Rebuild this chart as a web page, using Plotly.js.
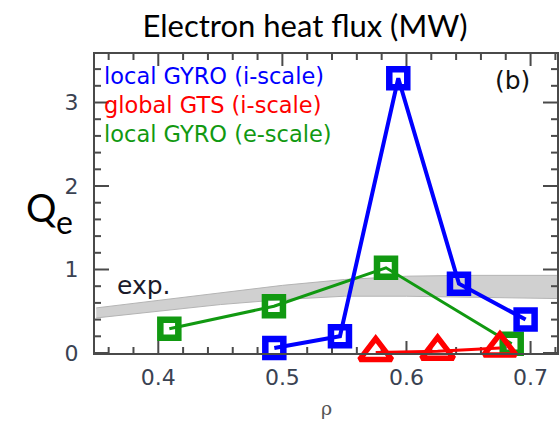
<!DOCTYPE html>
<html>
<head>
<meta charset="utf-8">
<script src="https://cdn.plot.ly/plotly-3.0.1.min.js"></script>
<style>html,body{margin:0;padding:0;background:#fff;}#chart{width:559px;height:423px;}</style>
</head>
<body>
<div id="chart"></div>
<script>
// ---- data ----
const rhoGyroI = [0.4935, 0.5464, 0.5934, 0.6423, 0.6960];
const qGyroI   = [0.06, 0.20, 3.29, 0.83, 0.40];
const rhoGts   = [0.5752, 0.6251, 0.6753];
const qGts     = [0.005, 0.02, 0.06];
const rhoGyroE = [0.4089, 0.4932, 0.5835, 0.6848];
const qGyroE   = [0.29, 0.56, 1.02, 0.11];
const rhoExp   = [0.35, 0.40, 0.45, 0.50, 0.55, 0.60, 0.65, 0.70, 0.73];
const qExpLo   = [0.42, 0.50, 0.58, 0.64, 0.68, 0.68, 0.67, 0.66, 0.65];
const qExpHi   = [0.54, 0.63, 0.72, 0.81, 0.88, 0.92, 0.93, 0.93, 0.93];
const xTickVals = [0.4, 0.5, 0.6, 0.7];
const xTickText = ['0.4', '0.5', '0.6', '0.7'];
const yTickVals = [0, 1, 2, 3];
const yTickText = ['0', '1', '2', '3'];
const seriesNames = ['local GYRO (i-scale)', 'global GTS (i-scale)', 'local GYRO (e-scale)'];
const seriesColors = ['#0000ff', '#ff0000', '#119911'];

// ---- layout geometry ----
const W = 559, H = 423;
const M = {l: 95, r: 2, t: 54, b: 70};
const pw = W - M.l - M.r, ph = H - M.t - M.b;
const px = x => (x - M.l) / pw;
const py = y => (H - M.b - y) / ph;
const xRange = [0.349, 0.7213];
const yRange = [0, 3.581];
const axisColor = '#4a4a4a';

// ---- tick marks (inside, mirrored) as one line trace built from the tick arrays ----
function tickSet(vals, sub, lo, hi) {
  const step = (vals[1] - vals[0]) / sub, out = [];
  const start = Math.ceil((lo - vals[0]) / step - 1e-9);
  for (let k = start; vals[0] + k * step <= hi + 1e-9; k++) {
    const v = Math.round((vals[0] + k * step) * 1e6) / 1e6;
    out.push({v, major: ((k % sub) + sub) % sub === 0});
  }
  return out;
}
const tx = [], ty = [];
const yPerPx = (yRange[1] - yRange[0]) / ph, xPerPx = (xRange[1] - xRange[0]) / pw;
tickSet(xTickVals, 5, xRange[0], xRange[1]).forEach(t => {
  const len = (t.major ? 12 : 6) * yPerPx;
  tx.push(t.v, t.v, null, t.v, t.v, null);
  ty.push(yRange[0], yRange[0] + len, null, yRange[1], yRange[1] - len, null);
});
tickSet(yTickVals, 5, yRange[0], yRange[1]).forEach(t => {
  const len = (t.major ? 14 : 6) * xPerPx;
  tx.push(xRange[0], xRange[0] + len, null, xRange[1], xRange[1] - len, null);
  ty.push(t.v, t.v, null, t.v, t.v, null);
});

const traces = [
  {x: rhoExp, y: qExpLo, mode: 'lines', line: {color: '#b4b4b4', width: 1}, hoverinfo: 'skip', showlegend: false},
  {x: rhoExp, y: qExpHi, mode: 'lines', fill: 'tonexty', fillcolor: '#d0d0d0', line: {color: '#b4b4b4', width: 1}, hoverinfo: 'skip', showlegend: false},
  {x: tx, y: ty, mode: 'lines', connectgaps: false, line: {color: axisColor, width: 2}, hoverinfo: 'skip', showlegend: false},
  {x: rhoGyroE, y: qGyroE, name: seriesNames[2], mode: 'lines+markers', cliponaxis: false,
   line: {color: seriesColors[2], width: 3},
   marker: {symbol: 'square-open', size: 18, color: seriesColors[2], line: {width: 6.5, color: seriesColors[2]}}},
  {x: rhoGyroI, y: qGyroI, name: seriesNames[0], mode: 'lines+markers', cliponaxis: false,
   line: {color: seriesColors[0], width: 4},
   marker: {symbol: 'square-open', size: 18, color: seriesColors[0], line: {width: 6.5, color: seriesColors[0]}}},
  {x: rhoGts, y: qGts, name: seriesNames[1], mode: 'lines+markers', cliponaxis: false,
   line: {color: seriesColors[1], width: 3},
   marker: {symbol: 'triangle-up-open', size: 28, color: seriesColors[1], line: {width: 5.5, color: seriesColors[1]}}}
];

const axisCommon = {
  showline: true, linecolor: axisColor, linewidth: 2, mirror: true,
  ticks: '', showgrid: false, zeroline: false,
  tickfont: {family: 'DejaVu Sans', size: 22, color: '#3a4252'}
};

const ann = (text, x, y, size, color, extra) => Object.assign({
  text, xref: 'paper', yref: 'paper', x: px(x), y: py(y), showarrow: false,
  xanchor: 'center', yanchor: 'middle',
  font: {family: 'DejaVu Sans', size, color}
}, extra || {});

const layout = {
  width: W, height: H, margin: M,
  showlegend: false,
  title: {text: 'Electron heat flux (MW)', font: {family: 'Lato', size: 31, color: '#000'},
          x: 305 / W, xanchor: 'center', y: 1 - 26 / H, yanchor: 'middle'},
  xaxis: Object.assign({}, axisCommon, {
    range: xRange, tickmode: 'array', tickvals: xTickVals, ticktext: xTickText, ticklabelstandoff: 4
  }),
  yaxis: Object.assign({}, axisCommon, {
    range: yRange, tickmode: 'array', tickvals: yTickVals, ticktext: yTickText, ticklabelstandoff: 10
  }),
  annotations: [
    ann(seriesNames[0], 102, 76, 22.5, seriesColors[0], {xanchor: 'left'}),
    ann(seriesNames[1], 102, 104.5, 22.5, seriesColors[1], {xanchor: 'left'}),
    ann(seriesNames[2], 102, 134, 22.5, seriesColors[2], {xanchor: 'left'}),
    ann('(b)', 512, 80, 25, '#111'),
    ann('exp.', 143.5, 285, 25, '#1a1a2a'),
    ann('Q', 40.5, 206.5, 38, '#000', {font: {family: 'Lato', size: 38, color: '#000'}}),
    ann('e', 64, 221, 32, '#000', {font: {family: 'Lato', size: 32, color: '#000'}}),
    ann('ρ', 326, 408, 19, '#555', {font: {family: 'DejaVu Serif', size: 19, color: '#555'}})
  ]
};

Plotly.newPlot('chart', traces, layout, {displayModeBar: false, staticPlot: true});
</script>
</body>
</html>
